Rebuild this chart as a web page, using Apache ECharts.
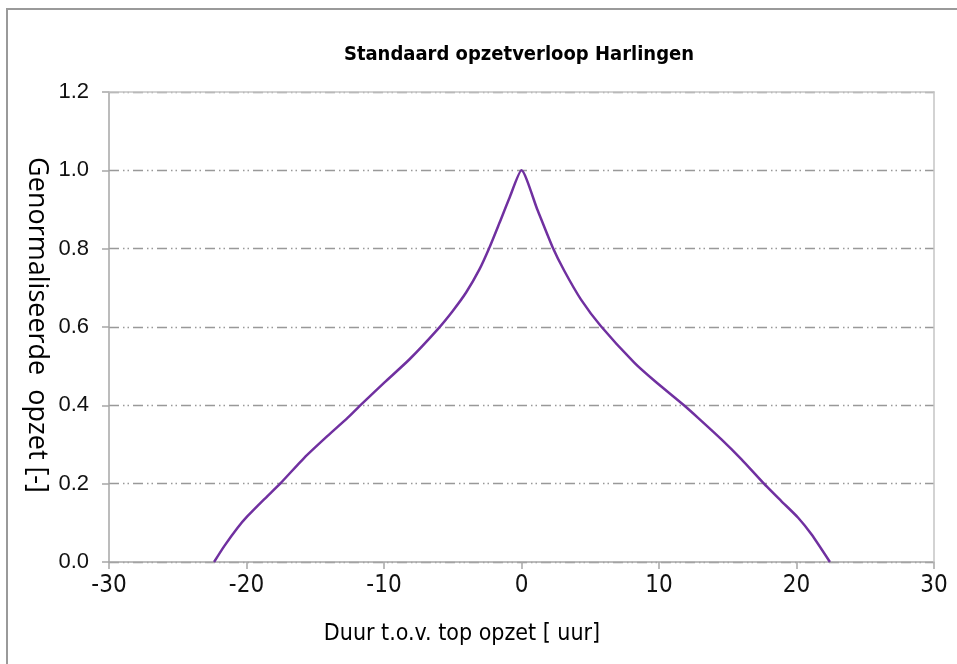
<!DOCTYPE html>
<html>
<head>
<meta charset="utf-8">
<script src="https://cdn.jsdelivr.net/npm/echarts@6/dist/echarts.min.js"></script>
<style>
html,body{margin:0;padding:0;background:#fff;}
#chart{width:957px;height:664px;}
</style>
</head>
<body>
<div id="chart"></div>
<script>
// Duration relative to peak surge [hours]
const hours = [-22.36, -21.63, -20.66, -19.93, -18.72, -17.5, -15.8, -14.1, -12.65, -11.67, -9.98, -8.16, -6.10, -5.0, -4.03, -3.06, -2.33, -1.60, -0.87, 0,
               1.15, 2.27, 3.12, 4.33, 5.78, 8.20, 9.69, 11.75, 12.84, 14.54, 16.0, 17.58, 18.91, 20.12, 21.1, 22.43];
// Normalised surge [-]
const opzet = [0, 0.040, 0.087, 0.117, 0.160, 0.202, 0.266, 0.322, 0.368, 0.402, 0.458, 0.517, 0.594, 0.641, 0.688, 0.747, 0.803, 0.866, 0.930, 1.0,
               0.900, 0.803, 0.743, 0.670, 0.602, 0.509, 0.462, 0.402, 0.368, 0.313, 0.262, 0.202, 0.155, 0.113, 0.070, 0];
const xTicks = [-30, -20, -10, 0, 10, 20, 30];
const yTicks = [0.0, 0.2, 0.4, 0.6, 0.8, 1.0, 1.2];
const titleText = 'Standaard opzetverloop Harlingen';
const xName = 'Duur t.o.v. top opzet [ uur]';
const yName = 'Genormaliseerde  opzet [-]';

const chart = echarts.init(document.getElementById('chart'));
const narrow = '"Liberation Sans Narrow", "DejaVu Sans Condensed", "Liberation Sans", sans-serif';
const axisGrey = '#a6a6a6';
chart.setOption({
  animation: false,
  backgroundColor: '#fff',
  grid: { left: 109, right: 23, top: 92, bottom: 102, show: false },
  title: {
    text: titleText,
    left: 514, top: 40, textAlign: 'center',
    textStyle: { fontFamily: narrow, fontWeight: 'bold', fontSize: 20, color: '#000' }
  },
  xAxis: [{
    type: 'value', min: xTicks[0], max: xTicks[xTicks.length - 1], interval: 10,
    axisLine: { onZero: false, lineStyle: { color: axisGrey, width: 1.5 } },
    axisTick: { show: true, length: 7, lineStyle: { color: axisGrey, width: 1.5 } },
    axisLabel: { margin: 12, fontFamily: narrow, fontSize: 24, color: '#111' },
    splitLine: { show: false }
  }, {
    type: 'value', position: 'top', min: -30, max: 30, z: 5,
    axisLine: { show: true, onZero: false, lineStyle: { color: '#c4c4c4', width: 1.5 } },
    axisTick: { show: false }, axisLabel: { show: false }, splitLine: { show: false }
  }],
  yAxis: [{
    type: 'value', min: yTicks[0], max: yTicks[yTicks.length - 1], interval: 0.2,
    axisLine: { show: true, onZero: false, lineStyle: { color: axisGrey, width: 1.5 } },
    axisTick: { show: true, length: 7, lineStyle: { color: axisGrey, width: 1.5 } },
    axisLabel: { margin: 20, fontFamily: '"Liberation Sans", sans-serif', fontSize: 22, color: '#111',
      formatter: v => v.toFixed(1) },
    splitLine: { show: true, lineStyle: { color: '#999999', width: 1.4, type: [10, 4, 1.5, 3, 1.5, 4] } }
  }, {
    type: 'value', position: 'right', min: 0, max: 1.2, z: 5,
    axisLine: { show: true, onZero: false, lineStyle: { color: '#c4c4c4', width: 1.5 } },
    axisTick: { show: false }, axisLabel: { show: false }, splitLine: { show: false }
  }],
  series: [{
    type: 'line',
    data: hours.map((h, i) => [h, opzet[i]]),
    showSymbol: false,
    smooth: 0.2,
    lineStyle: { color: '#7030a0', width: 2.5 },
    z: 10
  }],
  graphic: [
    { type: 'rect', shape: { x: 7, y: 9, width: 1000, height: 700 },
      style: { fill: 'none', stroke: '#9a9a9a', lineWidth: 2 }, silent: true },
    { type: 'text', x: 462, y: 634,
      style: { text: xName, font: '23px ' + narrow, fill: '#000', align: 'center', verticalAlign: 'middle' } },
    { type: 'text', x: 37, y: 325, rotation: -Math.PI / 2,
      style: { text: yName, font: '27px "Open Sans", "Liberation Sans", sans-serif', fill: '#000', align: 'center', verticalAlign: 'middle' } }
  ]
});
</script>
</body>
</html>
